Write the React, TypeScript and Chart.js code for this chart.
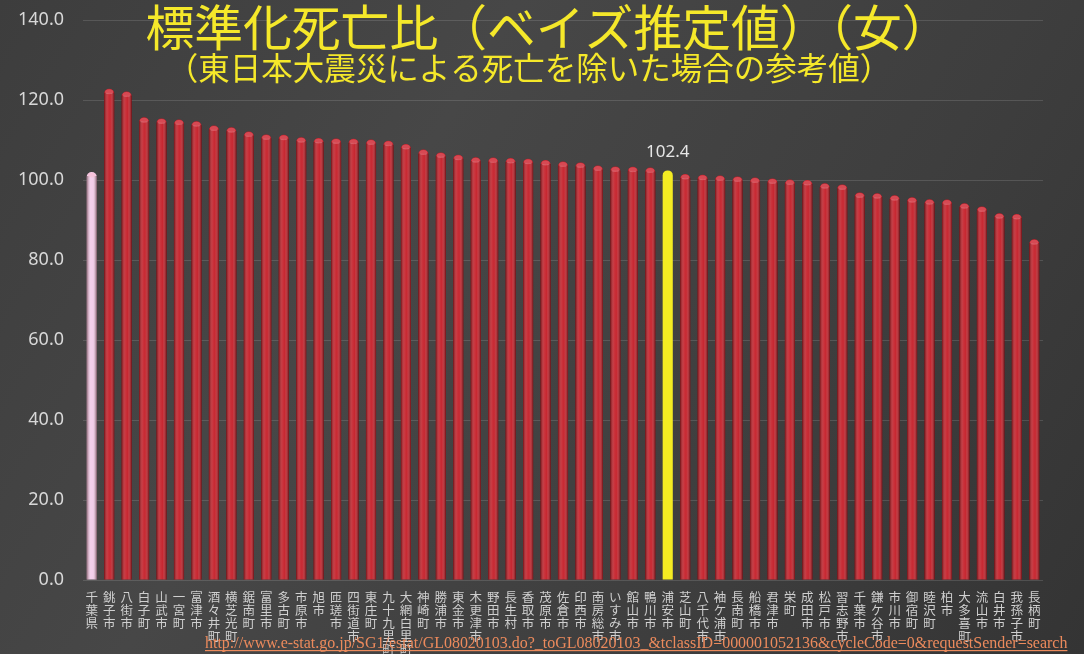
import React, { useEffect, useRef } from "react";
import { Chart, registerables } from "chart.js";

Chart.register(...registerables);

const categories = [
  "千葉県", "銚子市", "八街市", "白子町", "山武市", "一宮町", "富津市", "酒々井町", "横芝光町", "鋸南町",
  "富里市", "多古町", "市原市", "旭市", "匝瑳市", "四街道市", "東庄町", "九十九里町", "大網白里町", "神崎町",
  "勝浦市", "東金市", "木更津市", "野田市", "長生村", "香取市", "茂原市", "佐倉市", "印西市", "南房総市",
  "いすみ市", "館山市", "鴨川市", "浦安市", "芝山町", "八千代市", "袖ケ浦市", "長南町", "船橋市", "君津市",
  "栄町", "成田市", "松戸市", "習志野市", "千葉市", "鎌ケ谷市", "市川市", "御宿町", "睦沢町", "柏市",
  "大多喜町", "流山市", "白井市", "我孫子市", "長柄町",
];

const values = [
  102.0, 122.8, 122.1, 115.7, 115.4, 115.1, 114.7, 113.6, 113.2, 112.1,
  111.4, 111.3, 110.7, 110.5, 110.4, 110.3, 110.1, 109.8, 109.0, 107.6,
  106.9, 106.3, 105.7, 105.6, 105.5, 105.3, 105.0, 104.6, 104.4, 103.6,
  103.4, 103.3, 103.1, 102.4, 101.5, 101.3, 101.1, 100.9, 100.6, 100.4,
  100.1, 100.0, 99.2, 98.9, 96.9, 96.7, 96.2, 95.7, 95.2, 95.1,
  94.2, 93.4, 91.7, 91.5, 85.2,
];

const prefectureCategory = "千葉県";
const labeledCategory = "浦安市";
const yMin = 0;
const yMax = 140;
const yStep = 20;

const titleText = "標準化死亡比（ベイズ推定値）（女）";
const subtitleText = "（東日本大震災による死亡を除いた場合の参考値）";
const sourceUrl =
  "http://www.e-stat.go.jp/SG1/estat/GL08020103.do?_toGL08020103_&tclassID=000001052136&cycleCode=0&requestSender=search";

const W = 1084;
const H = 654;

const barColor = (name: string) =>
  name === prefectureCategory ? "#f2cbe9" : name === labeledCategory ? "#f4ec22" : "#c41c26";

const backgroundPlugin = {
  id: "bg",
  beforeDraw(chart: any) {
    const { ctx } = chart;
    ctx.save();
    const g = ctx.createLinearGradient(0, 0, W, H);
    g.addColorStop(0, "#3d3d3d");
    g.addColorStop(0.35, "#474747");
    g.addColorStop(0.7, "#3e3e3e");
    g.addColorStop(1, "#343434");
    ctx.fillStyle = g;
    ctx.fillRect(0, 0, W, H);
    ctx.restore();
  },
};

const barShadePlugin = {
  id: "barShade",
  afterDatasetsDraw(chart: any) {
    const { ctx } = chart;
    const meta = chart.getDatasetMeta(0);
    ctx.save();
    meta.data.forEach((el: any, i: number) => {
      const name = categories[i];
      if (name === labeledCategory) return;
      const w = el.width;
      const x0 = el.x - w / 2;
      const g = ctx.createLinearGradient(x0, 0, x0 + w, 0);
      g.addColorStop(0, "rgba(40,0,0,0.5)");
      g.addColorStop(0.4, "rgba(255,255,255,0.1)");
      g.addColorStop(0.6, "rgba(255,255,255,0.05)");
      g.addColorStop(1, "rgba(40,0,0,0.55)");
      ctx.fillStyle = g;
      ctx.fillRect(x0, el.y + 4, w, el.base - el.y - 4);
      ctx.fillStyle = "rgba(255,180,190,0.3)";
      ctx.beginPath();
      ctx.ellipse(el.x, el.y + 3, w / 2 - 1, 2.5, 0, 0, Math.PI * 2);
      ctx.fill();
    });
    ctx.restore();
  },
};

const overlayTextPlugin = {
  id: "overlayText",
  afterDraw(chart: any) {
    const { ctx } = chart;
    const meta = chart.getDatasetMeta(0);
    ctx.save();
    const idx = categories.indexOf(labeledCategory);
    const el = meta.data[idx];
    if (el) {
      ctx.fillStyle = "#e6e6e6";
      ctx.font = "17px 'Noto Sans', sans-serif";
      ctx.textAlign = "center";
      ctx.textBaseline = "bottom";
      ctx.fillText(values[idx].toFixed(1), el.x, el.y - 10);
    }
    ctx.fillStyle = "#f5e82a";
    ctx.textAlign = "center";
    ctx.textBaseline = "middle";
    ctx.font = "48.8px 'Noto Sans CJK JP', sans-serif";
    ctx.fillText(titleText, 548, 27);
    ctx.font = "31.5px 'Noto Sans CJK JP', sans-serif";
    ctx.fillText(subtitleText, 529, 68);
    ctx.textAlign = "left";
    ctx.textBaseline = "alphabetic";
    let size = 16;
    ctx.font = `${size}px 'Liberation Serif', serif`;
    const target = 863;
    const mw = ctx.measureText(sourceUrl).width;
    size = (size * target) / mw;
    ctx.font = `${size}px 'Liberation Serif', serif`;
    ctx.fillStyle = "#ec8a5c";
    const ux = 205;
    const uy = 648;
    ctx.fillText(sourceUrl, ux, uy);
    const tw = ctx.measureText(sourceUrl).width;
    ctx.fillRect(ux, uy + 2, tw, 1.2);
    ctx.restore();
  },
};

export default function App() {
  const ref = useRef<HTMLCanvasElement | null>(null);

  useEffect(() => {
    document.body.style.margin = "0";
    const canvas = ref.current;
    if (!canvas) return;
    const chart = new Chart(canvas, {
      type: "bar",
      data: {
        labels: categories.map((c) => c.split("")),
        datasets: [
          {
            data: values,
            backgroundColor: categories.map(barColor),
            borderWidth: 0,
            borderRadius: { topLeft: 5, topRight: 5, bottomLeft: 0, bottomRight: 0 },
            borderSkipped: "bottom",
            categoryPercentage: 1,
            barPercentage: 0.58,
          },
        ],
      },
      options: {
        animation: false,
        responsive: false,
        devicePixelRatio: 1,
        layout: { padding: { top: 20, right: 41, left: 0, bottom: 0 } },
        plugins: {
          legend: { display: false },
          tooltip: { enabled: false },
          title: { display: false },
        },
        scales: {
          x: {
            grid: { display: false },
            border: { display: false },
            ticks: {
              color: "#cfcfcf",
              font: { family: "'Noto Sans CJK JP', sans-serif", size: 12.5, lineHeight: 1.04 },
              maxRotation: 0,
              minRotation: 0,
              autoSkip: false,
              padding: 3,
            },
            afterFit(scale: any) {
              scale.height = 74;
            },
          },
          y: {
            min: yMin,
            max: yMax,
            grid: { color: "rgba(255,255,255,0.13)", drawTicks: false, lineWidth: 1 },
            border: { display: false },
            ticks: {
              stepSize: yStep,
              color: "#d8d8d8",
              font: { family: "'Noto Sans', sans-serif", size: 18 },
              padding: 19,
              callback: (v: any) => Number(v).toFixed(1),
            },
            afterFit(scale: any) {
              scale.width = 83;
              scale.paddingTop = 0;
              scale.paddingBottom = 0;
            },
          },
        },
      },
      plugins: [backgroundPlugin, barShadePlugin, overlayTextPlugin],
    });
    return () => chart.destroy();
  }, []);

  return (
    <div style={{ width: W, height: H, position: "relative" }}>
      <canvas ref={ref} width={W} height={H} style={{ display: "block" }} />
    </div>
  );
}
